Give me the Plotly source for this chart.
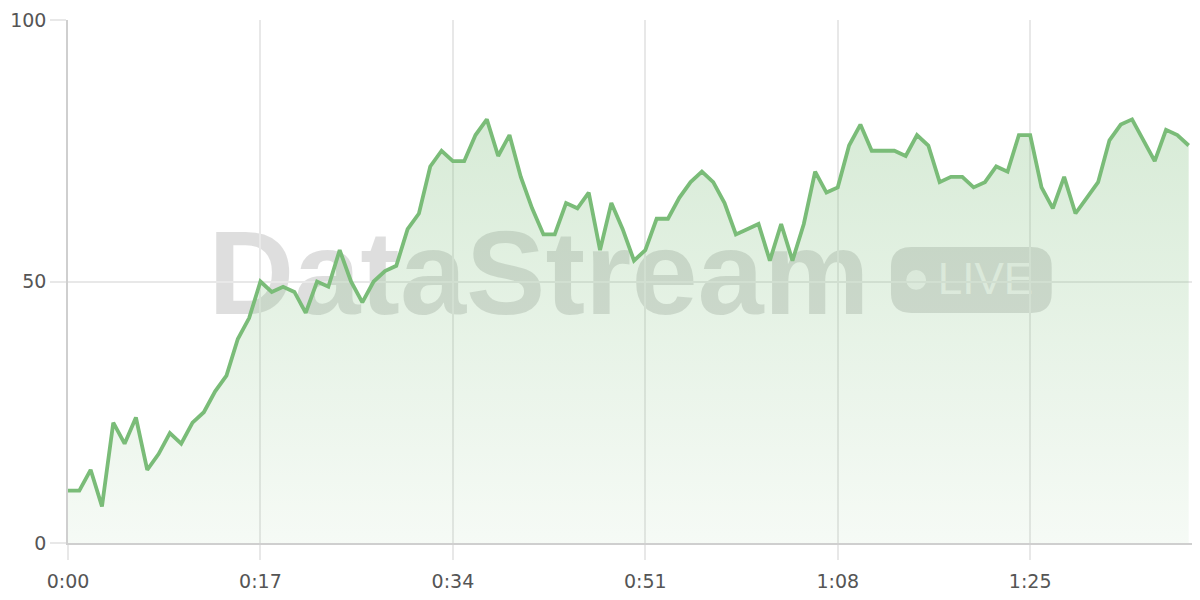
import plotly.graph_objects as go

# lecturas por segundo (0:00 .. 1:39)
seconds = list(range(100))
values = [
    10, 10, 14, 7, 23, 19, 24, 14, 17, 21,
    19, 23, 25, 29, 32, 39, 43, 50, 48, 49,
    48, 44, 50, 49, 56, 50, 46, 50, 52, 53,
    60, 63, 72, 75, 73, 73, 78, 81, 74, 78,
    70, 64, 59, 59, 65, 64, 67, 56, 65, 60,
    54, 56, 62, 62, 66, 69, 71, 69, 65, 59,
    60, 61, 54, 61, 54, 61, 71, 67, 68, 76,
    80, 75, 75, 75, 74, 78, 76, 69, 70, 70,
    68, 69, 72, 71, 78, 78, 68, 64, 70, 63,
    66, 69, 77, 80, 81, 77, 73, 79, 78, 76,
]
tick_vals = [0, 17, 34, 51, 68, 85]
tick_text = ["0:00", "0:17", "0:34", "0:51", "1:08", "1:25"]

GREEN = "rgb(122,188,120)"
GRID = "#e8e8e8"
AXIS = "#cfcfcf"
FONT = "DejaVu Sans"


def rounded_rect(x0, x1, y0, y1, rx, ry):
    """Path de rectángulo con esquinas redondeadas (unidades de datos)."""
    return (
        f"M {x0 + rx},{y0} L {x1 - rx},{y0} Q {x1},{y0} {x1},{y0 + ry} "
        f"L {x1},{y1 - ry} Q {x1},{y1} {x1 - rx},{y1} "
        f"L {x0 + rx},{y1} Q {x0},{y1} {x0},{y1 - ry} "
        f"L {x0},{y0 + ry} Q {x0},{y0} {x0 + rx},{y0} Z"
    )


fig = go.Figure()

fig.add_trace(
    go.Scatter(
        x=seconds,
        y=values,
        mode="lines",
        line=dict(color=GREEN, width=3.8),
        fill="tozeroy",
        fillgradient=dict(
            type="vertical",
            start=0,
            stop=82,
            colorscale=[
                [0, "rgba(122,188,120,0.07)"],
                [1, "rgba(122,188,120,0.30)"],
            ],
        ),
        hoverinfo="skip",
        showlegend=False,
    )
)

# marca de agua "DataStream" + pastilla LIVE, debajo de la rejilla
fig.add_shape(
    type="rect", xref="x", yref="y",
    x0=11.6, x1=71.6, y0=43.8, y1=63.8,
    line_width=0, fillcolor="rgba(0,0,0,0)", layer="below",
    label=dict(
        text="DataStream",
        textposition="middle center",
        font=dict(family="Liberation Sans", size=119,
                  color="rgba(0,0,0,0.13)", weight="bold"),
    ),
)
fig.add_shape(
    type="path", xref="x", yref="y",
    path=rounded_rect(72.7, 86.9, 44.0, 56.6, 1.8, 3.8),
    line_width=0, fillcolor="rgba(0,0,0,0.13)", layer="below",
)
fig.add_shape(
    type="circle", xref="x", yref="y",
    x0=74.05, x1=75.8, y0=48.4, y1=52.2,
    line_width=0, fillcolor="rgba(255,255,255,0.7)", layer="below",
)
fig.add_shape(
    type="rect", xref="x", yref="y",
    x0=76.5, x1=85.6, y0=45.3, y1=57.3,
    line_width=0, fillcolor="rgba(0,0,0,0)", layer="below",
    label=dict(
        text="LIVE",
        textposition="middle center",
        font=dict(family="Liberation Sans", size=44,
                  color="rgba(255,255,255,0.72)"),
    ),
)

fig.update_xaxes(
    range=[0, 100],
    tickvals=tick_vals,
    ticktext=tick_text,
    showgrid=True,
    gridcolor=GRID,
    gridwidth=1.5,
    ticks="outside",
    ticklen=15,
    tickcolor=GRID,
    tickwidth=1.5,
    ticklabelstandoff=5,
    showline=True,
    linecolor=AXIS,
    linewidth=1.5,
    zeroline=False,
    automargin=False,
    tickfont=dict(family=FONT, size=19, color="#555555"),
)
fig.update_yaxes(
    range=[0, 100],
    tickvals=[0, 50, 100],
    showgrid=True,
    gridcolor=GRID,
    gridwidth=1.5,
    ticks="outside",
    ticklen=16,
    tickcolor=GRID,
    tickwidth=1.5,
    showline=True,
    linecolor=AXIS,
    linewidth=1.5,
    zeroline=False,
    automargin=False,
    tickfont=dict(family=FONT, size=19, color="#555555"),
)

# la página tiene 8 px de margen en el body: se compensa aquí
fig.update_layout(
    width=1200,
    height=600,
    margin=dict(l=60, r=8, t=12, b=65),
    plot_bgcolor="white",
    paper_bgcolor="white",
)

fig.write_html("out.html")
